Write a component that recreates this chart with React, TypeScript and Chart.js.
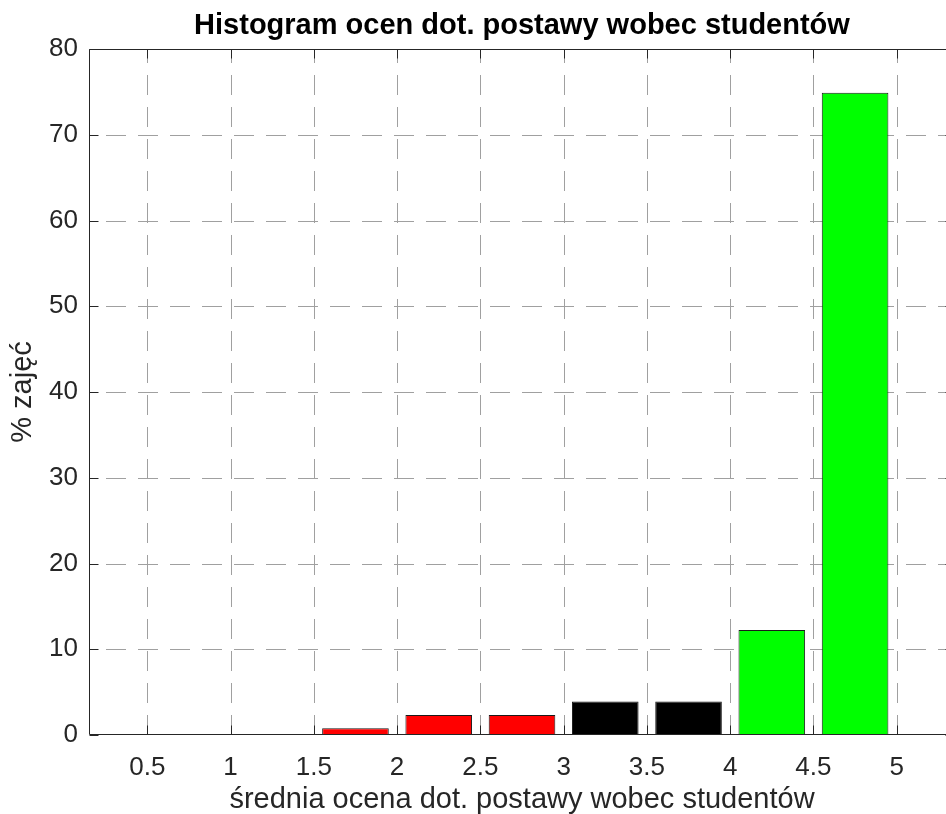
import React, { useEffect, useRef } from "react";
import { Chart, registerables } from "chart.js";

Chart.register(...registerables);

// ---- data ----
const binCenters = [0.75, 1.25, 1.75, 2.25, 2.75, 3.25, 3.75, 4.25, 4.75];
const percentages = [0, 0, 0.78, 2.34, 2.34, 3.91, 3.91, 12.24, 74.9];
const barColors = ["#262626", "#262626", "#ff0000", "#ff0000", "#ff0000", "#000000", "#000000", "#00ff00", "#00ff00"];
const xTicks = [0.5, 1, 1.5, 2, 2.5, 3, 3.5, 4, 4.5, 5];
const yTicks = [0, 10, 20, 30, 40, 50, 60, 70, 80];
const xMin = 0.15;
const xMax = 5.35;
const titleText = "Histogram ocen dot. postawy wobec studentów";
const xLabel = "średnia ocena dot. postawy wobec studentów";
const yLabel = "% zajęć";

const FONT = "'Liberation Sans', Arial, Helvetica, sans-serif";
const AXIS_COLOR = "#262626";
const GRID_COLOR = "#a0a0a0";
const TICK_LEN = 9;

const gridPlugin = {
  id: "matlabGrid",
  beforeDatasetsDraw(chart: any) {
    const { ctx, chartArea, scales } = chart;
    const { left, right, top, bottom } = chartArea;
    ctx.save();
    ctx.beginPath();
    ctx.rect(left, top, right - left, bottom - top);
    ctx.clip();
    ctx.strokeStyle = GRID_COLOR;
    ctx.lineWidth = 1;
    ctx.setLineDash([20, 12]);
    ctx.lineDashOffset = 0;
    for (const v of xTicks) {
      const px = Math.round(scales.x.getPixelForValue(v)) + 0.5;
      ctx.beginPath();
      ctx.moveTo(px, bottom);
      ctx.lineTo(px, top);
      ctx.stroke();
    }
    ctx.lineDashOffset = 15;
    for (const v of yTicks) {
      const py = Math.round(scales.y.getPixelForValue(v)) + 0.5;
      ctx.beginPath();
      ctx.moveTo(left, py);
      ctx.lineTo(right, py);
      ctx.stroke();
    }
    ctx.restore();
  },
};

const boxPlugin = {
  id: "matlabBox",
  afterDatasetsDraw(chart: any) {
    const { ctx, chartArea, scales } = chart;
    const { left, right, top, bottom } = chartArea;
    const L = Math.round(left) + 0.5;
    const R = Math.round(right) - 0.5;
    const T = Math.round(top) + 0.5;
    const B = Math.round(bottom) - 0.5;
    ctx.save();
    ctx.strokeStyle = AXIS_COLOR;
    ctx.lineWidth = 1;
    ctx.setLineDash([]);
    ctx.beginPath();
    ctx.moveTo(L, T);
    ctx.lineTo(R, T);
    ctx.lineTo(R, B);
    ctx.lineTo(L, B);
    ctx.closePath();
    ctx.stroke();
    ctx.beginPath();
    for (const v of xTicks) {
      const px = Math.round(scales.x.getPixelForValue(v)) + 0.5;
      ctx.moveTo(px, B);
      ctx.lineTo(px, B - TICK_LEN);
      ctx.moveTo(px, T);
      ctx.lineTo(px, T + TICK_LEN);
    }
    for (const v of yTicks) {
      const py = Math.round(scales.y.getPixelForValue(v)) + 0.5;
      ctx.moveTo(L, py);
      ctx.lineTo(L + TICK_LEN, py);
      ctx.moveTo(R, py);
      ctx.lineTo(R - TICK_LEN, py);
    }
    ctx.stroke();
    ctx.restore();
  },
  afterDraw(chart: any) {
    const { ctx, chartArea } = chart;
    ctx.save();
    ctx.font = `bold 29px ${FONT}`;
    ctx.fillStyle = "#000000";
    ctx.textAlign = "center";
    ctx.textBaseline = "alphabetic";
    ctx.fillText(titleText, (chartArea.left + chartArea.right) / 2, 34);
    ctx.restore();
  },
};

export default function App() {
  const canvasRef = useRef<HTMLCanvasElement | null>(null);

  useEffect(() => {
    const canvas = canvasRef.current;
    if (!canvas) return;
    const chart = new Chart(canvas, {
      type: "bar",
      data: {
        datasets: [
          {
            label: "hist",
            data: binCenters.map((c, i) => ({ x: c, y: percentages[i] })),
            backgroundColor: barColors,
            borderColor: "#1a1a1a",
            borderWidth: 1,
            categoryPercentage: 0.8,
            barPercentage: 1.0,
          },
        ],
      },
      options: {
        animation: false,
        responsive: false,
        events: [],
        layout: { padding: { top: 49, right: 45, left: 0, bottom: 0 } },
        plugins: {
          legend: { display: false },
          title: { display: false },
          tooltip: { enabled: false },
        },
        scales: {
          x: {
            type: "linear",
            min: xMin,
            max: xMax,
            offset: false,
            grid: { display: false, drawTicks: false, offset: false },
            border: { display: false },
            afterBuildTicks: (s: any) => {
              s.ticks = xTicks.map((v) => ({ value: v }));
            },
            afterFit: (s: any) => {
              s.height = 79;
            },
            ticks: {
              autoSkip: false,
              maxRotation: 0,
              padding: 17,
              color: AXIS_COLOR,
              font: { family: FONT, size: 26 },
              callback: (v: any) => String(v),
            },
            title: {
              display: true,
              text: xLabel,
              color: AXIS_COLOR,
              font: { family: FONT, size: 29, lineHeight: 1 },
              padding: { top: 0, bottom: 0 },
            },
          },
          y: {
            type: "linear",
            min: 0,
            max: 80,
            grid: { display: false, drawTicks: false },
            border: { display: false },
            afterBuildTicks: (s: any) => {
              s.ticks = yTicks.map((v) => ({ value: v }));
            },
            afterFit: (s: any) => {
              s.width = 89;
            },
            ticks: {
              padding: 11,
              color: AXIS_COLOR,
              font: { family: FONT, size: 26 },
              callback: (v: any) => String(v),
            },
            title: {
              display: true,
              text: yLabel,
              color: AXIS_COLOR,
              font: { family: FONT, size: 29, lineHeight: 1 },
              padding: { top: 8, bottom: 0 },
            },
          },
        },
      },
      plugins: [gridPlugin, boxPlugin],
    } as any);
    return () => chart.destroy();
  }, []);

  return (
    <div
      style={{
        position: "absolute",
        left: 0,
        top: 0,
        width: 946,
        height: 814,
        overflow: "hidden",
        background: "#ffffff",
      }}
    >
      <canvas ref={canvasRef} width={1000} height={814} style={{ width: 1000, height: 814, display: "block" }} />
    </div>
  );
}
